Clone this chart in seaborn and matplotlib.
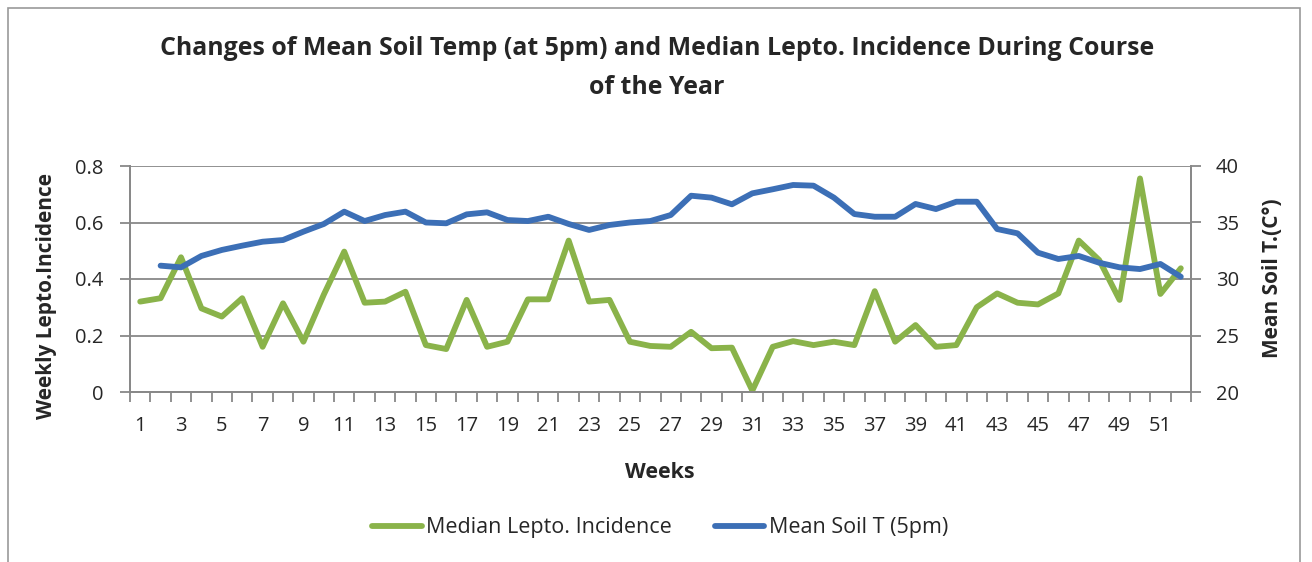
import matplotlib
matplotlib.use("Agg")
import matplotlib.pyplot as plt
import numpy as np
import pandas as pd
import seaborn as sns
from matplotlib.patches import Rectangle

# weekly values
weeks = list(range(1, 53))
lepto = [0.32, 0.332, 0.477, 0.296, 0.267, 0.332, 0.16, 0.314, 0.178, 0.345,
         0.497, 0.316, 0.32, 0.355, 0.166, 0.152, 0.326, 0.16, 0.178, 0.328,
         0.328, 0.536, 0.32, 0.326, 0.178, 0.163, 0.16, 0.213, 0.155, 0.157,
         0.005, 0.16, 0.18, 0.166, 0.178, 0.166, 0.357, 0.178, 0.237, 0.16,
         0.166, 0.30, 0.349, 0.316, 0.31, 0.349, 0.536, 0.467, 0.326, 0.756,
         0.347, 0.438]
soil_t = [np.nan, 31.18, 31.03, 32.04, 32.57, 32.95, 33.3, 33.45, 34.19, 34.87,
          35.96, 35.13, 35.66, 35.96, 35.0, 34.93, 35.72, 35.9, 35.22, 35.13,
          35.51, 34.87, 34.34, 34.78, 35.0, 35.13, 35.66, 37.37, 37.2, 36.61,
          37.58, 37.94, 38.32, 38.26, 37.2, 35.75, 35.51, 35.51, 36.64, 36.19,
          36.84, 36.84, 34.42, 34.04, 32.33, 31.77, 32.04, 31.44, 31.03, 30.88,
          31.33, 30.2]

df = pd.DataFrame({'week': weeks, 'lepto': lepto, 'soil': soil_t})

green = '#8AB34A'
blue = '#3C6FB6'
grid_c = '#888888'

sns.set_style('white')
plt.rcParams['font.family'] = ['Open Sans', 'DejaVu Sans']

fig = plt.figure(figsize=(13.12, 5.62), dpi=100)
ax = fig.add_axes([130/1312, 1 - 392/562, 1061/1312, 226/562])
ax2 = ax.twinx()

sns.lineplot(data=df, x='week', y='lepto', ax=ax, color=green, linewidth=4.2,
             label='Median Lepto. Incidence', legend=False)
sns.lineplot(data=df, x='week', y='soil', ax=ax2, color=blue, linewidth=4.2,
             label='Mean Soil T (5pm)', legend=False)

ax.set_xlim(0.5, 52.5)
ax.set_ylim(0, 0.8)
ax2.set_ylim(20, 40)
ax.set_yticks([0, 0.2, 0.4, 0.6, 0.8])
ax.set_yticklabels(['0', '0.2', '0.4', '0.6', '0.8'])
ax2.set_yticks([20, 25, 30, 35, 40])

ax.set_xticks(weeks[::2])
ax.set_xticks(np.arange(0.5, 53, 1), minor=True)
ax.tick_params(axis='x', which='major', length=0, pad=17, labelsize=14.5)
ax.tick_params(axis='x', which='minor', length=7, width=1.3, color=grid_c,
               direction='out', bottom=True)
ax.tick_params(axis='y', length=7, width=1.3, color=grid_c, direction='out',
               pad=12, labelsize=14.5, left=True)
ax2.tick_params(axis='y', length=7, width=1.3, color=grid_c, direction='out',
                pad=11, labelsize=14.5, right=True)

ax.yaxis.grid(True, color=grid_c, linewidth=1.3)
ax.set_axisbelow(True)

for a in (ax, ax2):
    a.spines['top'].set_visible(False)
    for s in ('left', 'right', 'bottom'):
        a.spines[s].set_color(grid_c)
        a.spines[s].set_linewidth(1.3)

ax.set_xlabel('Weeks', fontsize=15.5, fontweight='bold')
ax.xaxis.set_label_coords(0.4995, -0.31)
ax.set_ylabel('Weekly Lepto.Incidence', fontsize=15, fontweight='bold')
ax.yaxis.set_label_coords(-0.069, 0.425)
ax2.set_ylabel('Mean Soil T.(C°)', fontsize=15, fontweight='bold')
ax2.yaxis.set_label_coords(1.067, 0.504)

fig.suptitle('Changes of Mean Soil Temp (at 5pm) and Median Lepto. Incidence During Course\nof the Year',
             x=657/1312, y=1 - 36/562, fontsize=17.9, fontweight='bold',
             linespacing=1.75, va='top')

h1, l1 = ax.get_legend_handles_labels()
h2, l2 = ax2.get_legend_handles_labels()
fig.legend(h1 + h2, l1 + l2, loc='center', bbox_to_anchor=(660/1312, 1 - 528/562),
           ncol=2, frameon=False, fontsize=15.5, handlelength=2.3,
           handletextpad=0.2, columnspacing=2.0)

# chart area border
fig.patches.append(Rectangle((8/1312, -0.05), 1292/1312, 1.05 - 8/562,
                             transform=fig.transFigure, fill=False,
                             edgecolor='#999999', linewidth=1.2))

fig.savefig('out.png', dpi=100)
